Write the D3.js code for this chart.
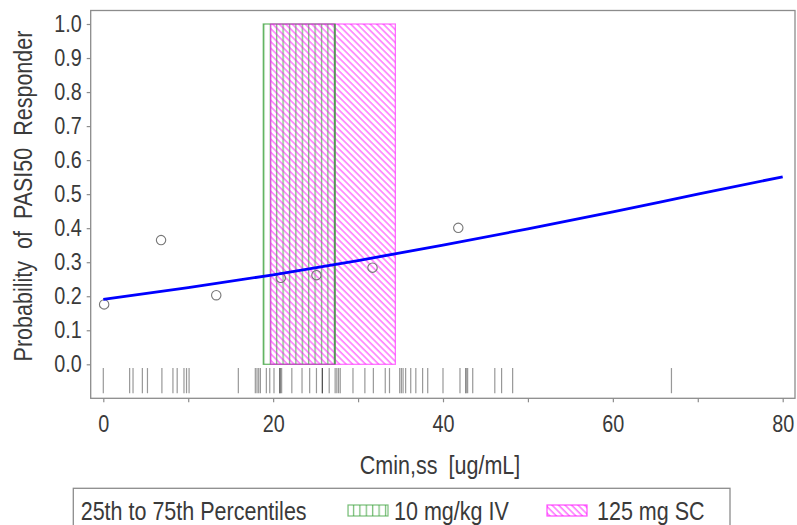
<!DOCTYPE html>
<html>
<head>
<meta charset="utf-8">
<script src="https://cdn.jsdelivr.net/npm/d3@7"></script>
<style>
  html, body { margin: 0; padding: 0; background: #fff; }
  svg { display: block; font-family: "Liberation Sans", Arial, Helvetica, sans-serif; }
</style>
</head>
<body>
<svg id="chart" width="797" height="525"></svg>
<script>
// Observed responder rates by concentration bin
const obsCmin = [0.1, 6.8, 13.3, 20.9, 25.1, 31.7, 41.8];
const obsProb = [0.176, 0.365, 0.203, 0.254, 0.262, 0.284, 0.401];

// Logistic model prediction
const fitCmin = [0, 10, 20, 30, 40, 50, 60, 70, 80];
const fitProb = [0.191, 0.225, 0.263, 0.305, 0.350, 0.398, 0.448, 0.500, 0.551];

// Individual Cmin,ss values (rug)
const rugCmin = [
  0.0, 3.1, 3.5, 4.6, 5.2, 6.9, 8.2, 8.7, 9.5, 9.8, 10.1, 15.9,
  17.9, 18.1, 18.3, 18.5, 19.2, 19.6, 20.1, 20.8, 20.8, 20.8, 21.0,
  22.2, 23.4, 24.3, 25.1, 25.8, 25.8, 25.8, 26.6, 27.3, 27.5, 27.7, 27.9,
  29.4, 30.8, 31.8, 33.2, 33.7, 34.9, 35.1, 35.3, 35.6, 36.2, 36.8,
  37.6, 38.2, 40.0, 42.0, 42.7, 42.7, 42.9, 43.5, 46.1, 46.9, 48.2, 66.9
];

// 25th-75th percentile ranges of Cmin,ss by regimen
const ivRange = [18.84, 27.28];
const scRange = [19.71, 34.39];

const yTicks = [0, 0.1, 0.2, 0.3, 0.4, 0.5, 0.6, 0.7, 0.8, 0.9, 1.0];
const xTicks = [0, 10, 20, 30, 40, 50, 60, 70, 80];
const xLabelTicks = [0, 20, 40, 60, 80];

const legendTitle = "25th to 75th Percentiles";
const legendItems = ["10 mg/kg IV", "125 mg SC"];

const svg = d3.select("#chart");
const textColor = "#3a3a3a";
const axisColor = "#8c8c8c";

// frame of the plot area
const frame = { left: 90.7, top: 10.5, right: 795, bottom: 398.3 };

const x = d3.scaleLinear().domain([0, 80]).range([103.3, 782.7]);
const y = d3.scaleLinear().domain([0, 1]).range([364.3, 24]);

// narrow the glyphs horizontally to mimic the condensed SAS font
function condense(sel, f) {
  sel.each(function () {
    const w = this.getComputedTextLength();
    this.setAttribute("textLength", (w * f).toFixed(2));
    this.setAttribute("lengthAdjust", "spacingAndGlyphs");
  });
}
const SQ = 0.86;

// hatch patterns
const defs = svg.append("defs");
defs.append("pattern")
  .attr("id", "ivHatch")
  .attr("patternUnits", "userSpaceOnUse")
  .attr("width", 6.4).attr("height", 10)
  .append("line")
  .attr("x1", 1.5).attr("x2", 1.5).attr("y1", 0).attr("y2", 10)
  .attr("stroke", "#3fa33f").attr("stroke-opacity", 0.7).attr("stroke-width", 1.3);

const scPat = defs.append("pattern")
  .attr("id", "scHatch")
  .attr("patternUnits", "userSpaceOnUse")
  .attr("width", 4.6).attr("height", 10)
  .attr("patternTransform", "rotate(-45)");
scPat.append("line")
  .attr("x1", 1).attr("x2", 1).attr("y1", 0).attr("y2", 10)
  .attr("stroke", "#ff00ff").attr("stroke-opacity", 0.55).attr("stroke-width", 1.5);

// percentile boxes
svg.append("rect")
  .attr("x", x(ivRange[0])).attr("y", y(1))
  .attr("width", x(ivRange[1]) - x(ivRange[0]))
  .attr("height", y(0) - y(1))
  .attr("fill", "url(#ivHatch)")
  .attr("stroke", "#3fa33f").attr("stroke-opacity", 0.75).attr("stroke-width", 1.3);

svg.append("rect")
  .attr("x", x(scRange[0])).attr("y", y(1))
  .attr("width", x(scRange[1]) - x(scRange[0]))
  .attr("height", y(0) - y(1))
  .attr("fill", "url(#scHatch)")
  .attr("stroke", "#ff00ff").attr("stroke-opacity", 0.55).attr("stroke-width", 1.3);

// right border of the IV box drawn over the SC hatch
svg.append("line")
  .attr("x1", x(ivRange[1])).attr("x2", x(ivRange[1]))
  .attr("y1", y(1)).attr("y2", y(0))
  .attr("stroke", "#3a8f3a").attr("stroke-opacity", 0.7).attr("stroke-width", 1.6);

// rug of individual concentrations
svg.append("g").selectAll("line")
  .data(rugCmin)
  .join("line")
  .attr("x1", d => x(d)).attr("x2", d => x(d))
  .attr("y1", y(-0.011)).attr("y2", y(-0.085))
  .attr("stroke", "#444").attr("stroke-opacity", 0.55).attr("stroke-width", 1.2);

// observed rates
svg.append("g").selectAll("circle")
  .data(obsCmin.map((c, i) => [c, obsProb[i]]))
  .join("circle")
  .attr("cx", d => x(d[0])).attr("cy", d => y(d[1]))
  .attr("r", 4.7)
  .attr("fill", "none").attr("stroke", "#777").attr("stroke-width", 1.1);

// model curve
const line = d3.line().x(d => x(d[0])).y(d => y(d[1])).curve(d3.curveMonotoneX);
svg.append("path")
  .datum(fitCmin.map((c, i) => [c, fitProb[i]]))
  .attr("d", line)
  .attr("fill", "none").attr("stroke", "#0000ff").attr("stroke-width", 2.8);

// plot frame
svg.append("rect")
  .attr("x", frame.left).attr("y", frame.top)
  .attr("width", frame.right - frame.left).attr("height", frame.bottom - frame.top)
  .attr("fill", "none").attr("stroke", axisColor).attr("stroke-width", 1.3);

// y axis
const yAxis = svg.append("g")
  .attr("transform", `translate(${frame.left},0)`)
  .call(d3.axisLeft(y).tickValues(yTicks).tickFormat(d3.format(".1f")).tickSize(4).tickPadding(5));
yAxis.select(".domain").remove();
yAxis.selectAll(".tick line").attr("stroke", axisColor).attr("stroke-width", 1.2);
yAxis.selectAll(".tick text")
  .attr("fill", textColor).style("font-size", "23px")
  .attr("font-family", "Liberation Sans, Arial, sans-serif");
condense(yAxis.selectAll(".tick text"), SQ);

// x axis
const xAxis = svg.append("g")
  .attr("transform", `translate(0,${frame.bottom})`)
  .call(d3.axisBottom(x).tickValues(xTicks)
    .tickFormat(d => xLabelTicks.includes(d) ? d : "").tickSize(4).tickPadding(13));
xAxis.select(".domain").remove();
xAxis.selectAll(".tick line").attr("stroke", axisColor).attr("stroke-width", 1.2);
xAxis.selectAll(".tick text")
  .attr("fill", textColor).style("font-size", "23px")
  .attr("font-family", "Liberation Sans, Arial, sans-serif");
condense(xAxis.selectAll(".tick text").filter(function () { return this.textContent !== ""; }), SQ);

// axis titles
const xTitle = svg.append("text")
  .attr("x", 440).attr("y", 474)
  .attr("text-anchor", "middle")
  .attr("fill", textColor).style("font-size", "25px").style("word-spacing", "6px")
  .text("Cmin,ss [ug/mL]");
condense(xTitle, SQ);

const yTitle = svg.append("text")
  .attr("transform", "translate(32,196) rotate(-90)")
  .attr("text-anchor", "middle")
  .attr("fill", textColor).style("font-size", "25px").style("word-spacing", "7px")
  .text("Probability of PASI50 Responder");
condense(yTitle, SQ);

// legend
const lg = svg.append("g");
lg.append("rect")
  .attr("x", 73.3).attr("y", 488.3).attr("width", 656.7).attr("height", 60)
  .attr("fill", "none").attr("stroke", axisColor).attr("stroke-width", 1.3);
const lgTitle = lg.append("text")
  .attr("x", 80.7).attr("y", 520)
  .attr("fill", textColor).style("font-size", "25px")
  .text(legendTitle);
condense(lgTitle, SQ);

const swatches = [
  { x: 348, fill: "url(#ivHatch)", stroke: "#3fa33f", tx: 394 },
  { x: 547, fill: "url(#scHatch)", stroke: "#ff00ff", tx: 597 }
];
swatches.forEach((s, i) => {
  lg.append("rect")
    .attr("x", s.x).attr("y", 505).attr("width", 40).attr("height", 11)
    .attr("fill", s.fill).attr("stroke", s.stroke).attr("stroke-opacity", 0.7).attr("stroke-width", 1.2);
  const t = lg.append("text")
    .attr("x", s.tx).attr("y", 520)
    .attr("fill", textColor).style("font-size", "25px")
    .text(legendItems[i]);
  condense(t, SQ);
});
</script>
</body>
</html>
